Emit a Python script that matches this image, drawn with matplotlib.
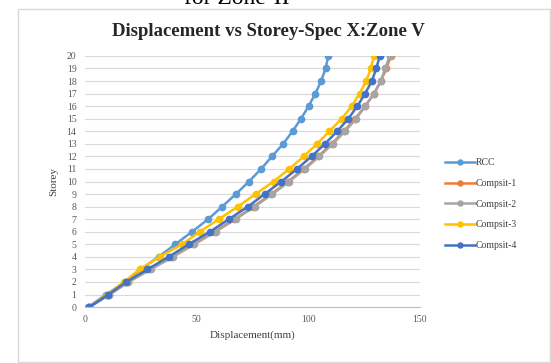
import matplotlib.pyplot as plt
from matplotlib.patches import Rectangle

storey = list(range(21))
rcc = [1.5, 9.5, 18, 25, 33, 40.5, 48, 55.2, 61.5, 67.6, 73.5, 78.9, 83.8, 88.8,
       93, 96.8, 100.2, 103.2, 105.8, 107.8, 109]
compsit1 = [2, 11, 19.5, 29, 39, 48.5, 58, 67, 75.5, 83.5, 91, 98, 104.5, 110.5,
            116, 121, 125.5, 129.5, 132.5, 135, 137]
compsit2 = [2, 11, 19.5, 29.5, 39.5, 49, 58.5, 67.5, 76, 84, 91.5, 98.5, 105, 111,
            116.5, 121.5, 125.5, 129.5, 132.5, 134.5, 136.5]
compsit3 = [2, 10, 17.5, 24.5, 33.5, 43.5, 51.5, 60, 68.5, 76.5, 84.5, 91.5, 98,
            104, 109.5, 115, 119.5, 123, 126, 128, 129.5]
compsit4 = [2, 10.5, 18.5, 28, 37.5, 46.5, 56, 64.5, 73, 80.5, 88, 95, 101.5, 107.5,
            113, 118, 122, 125.5, 128.5, 130.5, 132]

series = [("RCC", rcc, "#5B9BD5"),
          ("Compsit-1", compsit1, "#ED7D31"),
          ("Compsit-2", compsit2, "#A5A5A5"),
          ("Compsit-3", compsit3, "#FFC000"),
          ("Compsit-4", compsit4, "#4472C4")]

plt.rcParams['font.family'] = ['Liberation Serif', 'DejaVu Serif']

fig = plt.figure(figsize=(5.51, 3.63), dpi=100)
# chart frame
fig.patches.append(Rectangle((18 / 551, 0.002), 532 / 551, 1 - 9 / 363 - 0.002,
                             transform=fig.transFigure, fill=False,
                             edgecolor='#d9d9d9', linewidth=1))
# caption of the page, only its lower half shows at the top edge
fig.text(0.43, 1.005, 'for Zone-II', ha='center', va='center', fontsize=17)

ax = fig.add_axes([0.154, 0.154, 0.608, 0.692])
for name, vals, col in series:
    ax.plot(vals, storey, '-o', color=col, linewidth=1.8, markersize=4.5, label=name)

ax.set_xlim(0, 150)
ax.set_ylim(0, 20)
ax.set_xticks([0, 50, 100, 150])
ax.set_yticks(storey)
ax.grid(axis='y', color='#d9d9d9', linewidth=0.8)
ax.set_axisbelow(True)
for s in ['top', 'right', 'left']:
    ax.spines[s].set_visible(False)
ax.spines['bottom'].set_color('#bfbfbf')
ax.tick_params(length=0, labelsize=7, colors='#595959', pad=6)

fig.text(268 / 551, 1 - 32 / 363, 'Displacement vs Storey-Spec X:Zone V',
         ha='center', va='center', fontsize=13.5, fontweight='bold', color='#262626')
ax.set_xlabel('Displacement(mm)', fontsize=8, color='#404040', labelpad=4)
ax.set_ylabel('Storey', fontsize=8, color='#404040', labelpad=6)

ax.legend(loc='center left', bbox_to_anchor=(1.05, 0.41), frameon=False,
          fontsize=7, handlelength=3, labelspacing=1.2, handletextpad=0.1,
          labelcolor='#404040', markerscale=0.8)

plt.savefig('out.png', dpi=100)
